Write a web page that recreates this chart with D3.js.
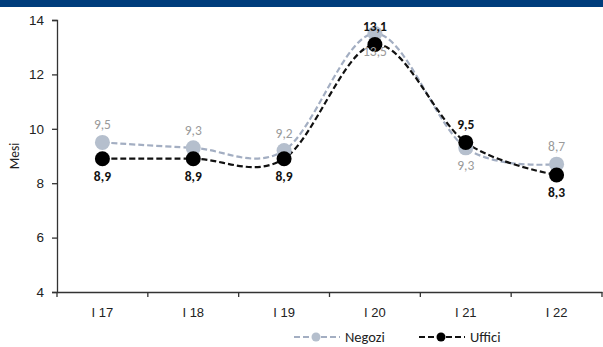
<!DOCTYPE html>
<html>
<head>
  <meta charset="utf-8">
  <script src="https://d3js.org/d3.v7.min.js"></script>
  <style>
    body { margin: 0; background: #fff; }
    svg { display: block; font-family: Carlito, Calibri, "Liberation Sans", sans-serif; }
  </style>
</head>
<body>
  <svg width="603" height="347"></svg>
  <script>
    // dati
    const anni = ["I 17", "I 18", "I 19", "I 20", "I 21", "I 22"];
    const negozi = [9.5, 9.3, 9.2, 13.5, 9.3, 8.7];
    const uffici = [8.9, 8.9, 8.9, 13.1, 9.5, 8.3];
    const yTicks = [4, 6, 8, 10, 12, 14];
    // posizione etichetta: -1 sopra, 1 sotto
    const posNegozi = [-1, -1, -1, 1, 1, -1];
    const posUffici = [1, 1, 1, -1, -1, 1];

    const svg = d3.select("svg");
    const fmt = v => d3.format(".1f")(v).replace(".", ",");

    // barra blu in alto
    svg.append("rect").attr("x", 0).attr("y", 0).attr("width", 603).attr("height", 7).attr("fill", "#003d7c");

    const x = d3.scaleBand().domain(anni).range([57, 602]);
    const y = d3.scaleLinear().domain([4, 14]).range([292, 20]);

    // asse y
    const gy = svg.append("g").attr("transform", "translate(57,0)")
      .call(d3.axisLeft(y).tickValues(yTicks).tickSize(5).tickPadding(8));
    gy.select(".domain").attr("stroke", "#333").attr("stroke-width", 1.3);
    gy.selectAll(".tick line").attr("stroke", "#333").attr("stroke-width", 1.3);
    gy.selectAll("text").attr("font-size", 13.5).attr("fill", "#222");

    // asse x
    const gx = svg.append("g").attr("transform", "translate(0,292)")
      .call(d3.axisBottom(x).tickSize(0).tickPadding(16));
    gx.select(".domain").attr("stroke", "#333").attr("stroke-width", 1.3);
    gx.selectAll("text").attr("font-size", 13).attr("fill", "#222");
    // tacche tra le categorie
    const edges = anni.map(d => x(d)).concat([x.range()[1]]);
    svg.append("g").selectAll("line").data(edges).join("line")
      .attr("x1", d => d).attr("x2", d => d)
      .attr("y1", 292).attr("y2", 297)
      .attr("stroke", "#333").attr("stroke-width", 1.3);

    svg.append("text")
      .attr("transform", "translate(19,156) rotate(-90)")
      .attr("text-anchor", "middle").attr("font-size", 13.5).attr("fill", "#222")
      .text("Mesi");

    const cx = i => x(anni[i]) + x.bandwidth() / 2;
    const line = d3.line().x((d, i) => cx(i)).y(d => y(d)).curve(d3.curveCardinal.tension(0));

    const serie = [
      { nome: "Negozi", dati: negozi, col: "#a3aec2", punto: "#b5bfcd", testo: "#9a9a9a", peso: "normal", pos: posNegozi },
      { nome: "Uffici", dati: uffici, col: "#111", punto: "#000", testo: "#111", peso: "bold", pos: posUffici }
    ];

    serie.forEach(s => {
      svg.append("path").datum(s.dati)
        .attr("d", line).attr("fill", "none")
        .attr("stroke", s.col).attr("stroke-width", 2.2)
        .attr("stroke-dasharray", "6,3");
    });
    serie.forEach(s => {
      svg.append("g").selectAll("circle").data(s.dati).join("circle")
        .attr("cx", (d, i) => cx(i)).attr("cy", d => y(d))
        .attr("r", 7.5).attr("fill", s.punto);
    });
    serie.forEach(s => {
      svg.append("g").selectAll("text").data(s.dati).join("text")
        .attr("x", (d, i) => cx(i))
        .attr("y", (d, i) => y(d) + (s.pos[i] < 0 ? -13 : 22))
        .attr("text-anchor", "middle").attr("font-size", 13.5)
        .attr("font-weight", s.peso).attr("fill", s.testo)
        .text(d => fmt(d));
    });

    // legenda
    const leg = svg.append("g").attr("transform", "translate(0,337)");
    [{ s: serie[0], x0: 294 }, { s: serie[1], x0: 419 }].forEach(o => {
      leg.append("line").attr("x1", o.x0).attr("x2", o.x0 + 46).attr("y1", 0).attr("y2", 0)
        .attr("stroke", o.s.col).attr("stroke-width", 2.2).attr("stroke-dasharray", "6,3");
      leg.append("circle").attr("cx", o.x0 + 22).attr("cy", 0).attr("r", 4.5).attr("fill", o.s.punto);
      leg.append("text").attr("x", o.x0 + 51).attr("y", 5)
        .attr("font-size", 14.5).attr("fill", "#222").text(o.s.nome);
    });
  </script>
</body>
</html>
